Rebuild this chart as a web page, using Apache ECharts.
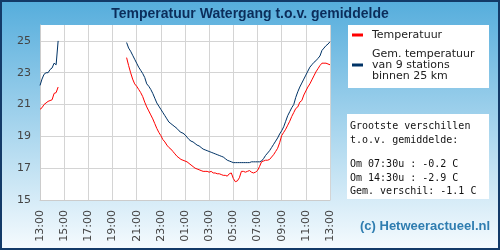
<!DOCTYPE html>
<html>
<head>
<meta charset="utf-8">
<script src="https://cdn.jsdelivr.net/npm/echarts@6/dist/echarts.min.js"></script>
<style>
html,body{margin:0;padding:0;}
#main{width:500px;height:250px;background:linear-gradient(#55addc,#f6fbfe);box-shadow:inset 0 0 0 2px #133a68;}
</style>
</head>
<body>
<div id="main"></div>
<script>
var titleText = 'Temperatuur Watergang t.o.v. gemiddelde';
var nameTemp = 'Temperatuur';
var nameGem = 'Gem. temperatuur\nvan 9 stations\nbinnen 25 km';

// every 10 minutes, 13:00 -> 13:00 next day
var times = [
 '13:00','13:10','13:20','13:30','13:40','13:50','14:00','14:10','14:20','14:30','14:40','14:50',
 '15:00','15:10','15:20','15:30','15:40','15:50','16:00','16:10','16:20','16:30','16:40','16:50',
 '17:00','17:10','17:20','17:30','17:40','17:50','18:00','18:10','18:20','18:30','18:40','18:50',
 '19:00','19:10','19:20','19:30','19:40','19:50','20:00','20:10','20:20','20:30','20:40','20:50',
 '21:00','21:10','21:20','21:30','21:40','21:50','22:00','22:10','22:20','22:30','22:40','22:50',
 '23:00','23:10','23:20','23:30','23:40','23:50','00:00','00:10','00:20','00:30','00:40','00:50',
 '01:00','01:10','01:20','01:30','01:40','01:50','02:00','02:10','02:20','02:30','02:40','02:50',
 '03:00','03:10','03:20','03:30','03:40','03:50','04:00','04:10','04:20','04:30','04:40','04:50',
 '05:00','05:10','05:20','05:30','05:40','05:50','06:00','06:10','06:20','06:30','06:40','06:50',
 '07:00','07:10','07:20','07:30','07:40','07:50','08:00','08:10','08:20','08:30','08:40','08:50',
 '09:00','09:10','09:20','09:30','09:40','09:50','10:00','10:10','10:20','10:30','10:40','10:50',
 '11:00','11:10','11:20','11:30','11:40','11:50','12:00','12:10','12:20','12:30','12:40','12:50',
 '13:00'
];

var temp = [
 20.7,20.8,21.0,21.1,21.2,21.25,21.3,21.7,21.75,22.1,null,null,
 null,null,null,null,null,null,null,null,null,null,null,null,
 null,null,null,null,null,null,null,null,null,null,null,null,
 null,null,null,null,null,null,null,23.95,23.45,23.0,22.6,22.3,
 22.15,21.95,21.75,21.5,21.15,20.85,20.6,20.35,20.1,19.8,19.5,19.25,
 19.05,18.8,18.65,18.45,18.3,18.2,18.05,17.9,17.75,17.65,17.55,17.5,
 17.45,17.4,17.3,17.2,17.1,17.0,16.95,16.9,16.85,16.8,16.8,16.8,
 16.75,16.8,16.7,16.7,16.65,16.65,16.6,16.55,16.55,16.5,16.65,16.7,
 16.35,16.15,16.2,16.4,16.8,16.8,16.75,16.8,16.85,16.75,16.7,16.75,
 16.85,17.1,17.4,17.45,17.5,17.5,17.55,17.7,17.85,18.05,18.25,18.6,
 19.05,19.25,19.45,19.7,19.95,20.25,20.5,20.75,20.85,21.15,21.25,21.6,
 21.85,22.1,22.3,22.55,22.8,23.05,23.25,23.45,23.6,23.6,23.6,23.55,
 23.5
];

var gem = [
 22.2,22.6,22.9,23.0,23.0,23.2,23.3,23.6,23.5,25.0,null,null,
 null,null,null,null,null,null,null,null,null,null,null,null,
 null,null,null,null,null,null,null,null,null,null,null,null,
 null,null,null,null,null,null,null,24.9,24.55,24.35,24.1,23.85,
 23.6,23.35,23.15,22.95,22.7,22.3,22.15,21.95,21.7,21.4,21.1,20.9,
 20.7,20.5,20.3,20.1,19.9,19.8,19.7,19.6,19.5,19.35,19.25,19.2,
 19.1,18.95,18.8,18.7,18.65,18.55,18.45,18.4,18.3,18.2,18.15,18.1,
 18.05,18.0,17.95,17.9,17.85,17.8,17.75,17.7,17.6,17.5,17.45,17.4,
 17.35,17.35,17.35,17.35,17.35,17.35,17.35,17.35,17.35,17.4,17.4,17.4,
 17.4,17.4,17.45,17.6,17.8,17.95,18.1,18.3,18.5,18.7,18.9,19.15,
 19.35,19.6,19.95,20.3,20.55,20.8,21.0,21.45,21.8,22.1,22.35,22.6,
 22.85,23.1,23.35,23.5,23.65,23.75,23.9,24.05,24.4,24.55,24.7,24.8,
 24.95
];

var infoLines = ['Grootste verschillen', 't.o.v. gemiddelde:', 'Om 07:30u : -0.2 C', 'Om 14:30u : -2.9 C', 'Gem. verschil: -1.1 C'];
var infoY = [126, 140, 164, 178, 191.5];
var credit = '(c) Hetweeractueel.nl';

var chart = echarts.init(document.getElementById('main'), null, {renderer: 'canvas'});

var graphics = [
    {type: 'rect', x: 348, y: 25, shape: {width: 141, height: 63}, style: {fill: '#fff'}, z: 1},
    {type: 'rect', x: 347, y: 114, shape: {width: 142, height: 85}, style: {fill: '#fff'}, z: 1},
    {type: 'text', x: 360, y: 226, z: 2, style: {text: credit, fill: '#2f7db0', font: 'bold 13px "Liberation Sans"', verticalAlign: 'middle'}}
];
infoLines.forEach(function (t, i) {
    graphics.push({type: 'text', x: 350, y: infoY[i], z: 2,
        style: {text: t, fill: '#111', font: '10px "DejaVu Sans Mono"', verticalAlign: 'middle'}});
});

var option = {
    animation: false,
    title: {
        text: titleText, left: 'center', top: 2,
        textStyle: {fontFamily: 'Liberation Sans', fontWeight: 'bold', fontSize: 14, color: '#0b2d5b'}
    },
    grid: {left: 40, right: 170, top: 25, bottom: 50, show: true, backgroundColor: '#fff', borderWidth: 0},
    legend: {
        orient: 'vertical', left: 352, top: 29.5, padding: 0, itemGap: 8,
        itemWidth: 11, itemHeight: 3, icon: 'rect',
        data: [nameTemp, nameGem],
        textStyle: {fontFamily: 'DejaVu Sans', fontSize: 11, lineHeight: 11, color: '#222', padding: [0, 0, 0, 4]}
    },
    xAxis: {
        type: 'category', data: times, boundaryGap: false,
        axisLine: {lineStyle: {color: '#ccc'}},
        axisTick: {show: false},
        axisLabel: {interval: 11, rotate: 90, margin: 10, color: '#444', fontFamily: 'DejaVu Sans', fontSize: 11},
        splitLine: {show: true, interval: 11, lineStyle: {color: '#d4d4d4'}}
    },
    yAxis: {
        type: 'value', min: 15, max: 26, interval: 2,
        axisLine: {show: true, lineStyle: {color: '#ccc'}},
        axisTick: {show: false},
        axisLabel: {showMaxLabel: false, margin: 9, color: '#444', fontFamily: 'DejaVu Sans', fontSize: 11},
        splitLine: {show: true, showMaxLine: false, lineStyle: {color: '#d4d4d4'}}
    },
    series: [
        {name: nameTemp, type: 'line', data: temp, showSymbol: false, connectNulls: false,
            lineStyle: {width: 1, color: '#ff0000'}, itemStyle: {color: '#ff0000'}},
        {name: nameGem, type: 'line', data: gem, showSymbol: false, connectNulls: false,
            lineStyle: {width: 1, color: '#003366'}, itemStyle: {color: '#003366'}}
    ],
    graphic: graphics
};

chart.setOption(option);
</script>
</body>
</html>
